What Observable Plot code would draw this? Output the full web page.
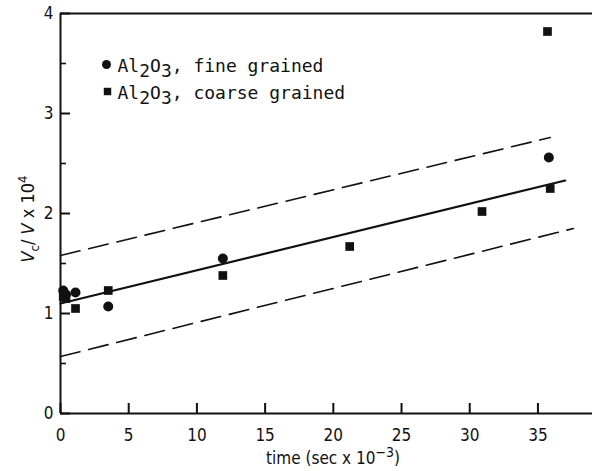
<!DOCTYPE html>
<html>
<head>
<meta charset="utf-8">
<script src="https://cdn.jsdelivr.net/npm/d3@7"></script>
<script src="https://cdn.jsdelivr.net/npm/@observablehq/plot@0.6"></script>
<style>
  html, body { margin: 0; padding: 0; background: #fff; }
  #chart svg { display: block; }
</style>
</head>
<body>
<div id="chart"></div>
<script>
// Fine grained Al2O3 (circles)
const fineX = [0.2, 0.4, 1.1, 3.5, 11.9, 35.8];
const fineY = [1.23, 1.19, 1.21, 1.07, 1.55, 2.56];
// Coarse grained Al2O3 (squares)
const coarseX = [0.2, 0.4, 1.1, 3.5, 11.9, 21.2, 30.9, 35.9, 35.7];
const coarseY = [1.17, 1.15, 1.05, 1.23, 1.38, 1.67, 2.02, 2.25, 3.82];
// Fit line and bands (end points)
const fitX = [0, 37.0];
const fitY = [1.10, 2.33];
const upperX = [0, 35.9];
const upperY = [1.58, 2.76];
const lowerX = [0, 37.6];
const lowerY = [0.57, 1.85];
// Ticks
const xTicks = [0, 5, 10, 15, 20, 25, 30, 35];
const yTicks = [0, 1, 2, 3, 4];
const yMinor = [0.5, 1.5, 2.5, 3.5];
const legendLabels = ["Al2O3, fine grained", "Al2O3, coarse grained"];

const fine = fineX.map((x, i) => ({x, y: fineY[i]}));
const coarse = coarseX.map((x, i) => ({x, y: coarseY[i]}));
const fit = fitX.map((x, i) => ({x, y: fitY[i]}));
const upper = upperX.map((x, i) => ({x, y: upperY[i]}));
const lower = lowerX.map((x, i) => ({x, y: lowerY[i]}));

const tickFont = "'Liberation Sans Narrow', 'DejaVu Sans Condensed', 'DejaVu Sans', sans-serif";
const monoFont = "'DejaVu Sans Mono', monospace";

// layout and scale geometry (used to convert inward tick lengths in pixels to data units)
const W = 594, H = 471, mL = 60, mT = 13, mB = 58, mR = 2;
const xDom = [0, 39], yDom = [0, 4];
const pxX = (W - mL - mR) / (xDom[1] - xDom[0]);
const pxY = (H - mT - mB) / (yDom[1] - yDom[0]);

const chart = Plot.plot({
  width: W,
  height: H,
  marginLeft: mL,
  marginTop: mT,
  marginBottom: mB,
  marginRight: mR,
  style: {fontFamily: tickFont, fontSize: "17px", color: "#111", background: "#fff"},
  x: {domain: xDom},
  y: {domain: yDom},
  marks: [
    // tick labels
    Plot.axisX(xTicks, {tickSize: 0, tickPadding: 15, label: null, fontSize: 17, tickFormat: "d"}),
    Plot.axisY(yTicks, {tickSize: 0, tickPadding: 7, label: null, fontSize: 17, tickFormat: "d"}),
    // inward ticks
    Plot.ruleX(xTicks, {x: d => d, y1: yDom[0], y2: yDom[0] + 10 / pxY, stroke: "#111", strokeWidth: 2}),
    Plot.ruleY(yTicks, {y: d => d, x1: xDom[0], x2: xDom[0] + 10 / pxX, stroke: "#111", strokeWidth: 2}),
    Plot.ruleY(yMinor, {y: d => d, x1: xDom[0], x2: xDom[0] + 6 / pxX, stroke: "#111", strokeWidth: 1.6}),
    // frame lines
    Plot.ruleX([0], {strokeWidth: 2}),
    Plot.ruleY([0], {strokeWidth: 2}),
    Plot.ruleY([4], {strokeWidth: 2}),
    // lines
    Plot.line(fit, {x: "x", y: "y", strokeWidth: 2.2, stroke: "#111"}),
    Plot.line(upper, {x: "x", y: "y", strokeWidth: 1.6, stroke: "#111", strokeDasharray: "20,9"}),
    Plot.line(lower, {x: "x", y: "y", strokeWidth: 1.6, stroke: "#111", strokeDasharray: "20,9"}),
    // points
    Plot.dot(fine, {x: "x", y: "y", r: 5, fill: "#111", symbol: "circle"}),
    Plot.dot(coarse, {x: "x", y: "y", r: 4.9, fill: "#111", symbol: "square"}),
    // legend
    Plot.dot([legendLabels[0]], {frameAnchor: "top-left", dx: 46, dy: 51, r: 4.5, fill: "#111", symbol: "circle"}),
    Plot.dot([legendLabels[1]], {frameAnchor: "top-left", dx: 47, dy: 78, r: 4.2, fill: "#111", symbol: "square"}),
    Plot.text([legendLabels[0]], {text: d => d, frameAnchor: "top-left", dx: 57, dy: 53, lineAnchor: "middle", textAnchor: "start", fontSize: 18, fontFamily: monoFont, fill: "#111"}),
    Plot.text([legendLabels[1]], {text: d => d, frameAnchor: "top-left", dx: 57, dy: 80, lineAnchor: "middle", textAnchor: "start", fontSize: 18, fontFamily: monoFont, fill: "#111"})
  ]
});

document.getElementById("chart").appendChild(chart);

const svg = d3.select(chart);

// subscripts in legend labels
svg.selectAll("text").filter(function() { return legendLabels.includes(this.textContent); })
  .each(function() {
    const t = d3.select(this);
    const s = this.textContent;
    t.text(null);
    t.append("tspan").text("Al");
    t.append("tspan").attr("dy", 5).text("2");
    t.append("tspan").attr("dy", -5).text("O");
    t.append("tspan").attr("dy", 5).text("3");
    t.append("tspan").attr("dy", -5).text(s.slice(5));
  });

// Axis titles with sub/superscripts
const xl = svg.append("text")
  .attr("x", 333).attr("y", 464)
  .attr("text-anchor", "middle")
  .attr("font-family", tickFont)
  .attr("font-size", 17)
  .attr("fill", "#111");
xl.append("tspan").text("time (sec x 10");
xl.append("tspan").attr("dy", -7).attr("font-size", 14).text("\u22123");
xl.append("tspan").attr("dy", 7).text(")");

const yl = svg.append("text")
  .attr("transform", "translate(34,219) rotate(-90)")
  .attr("text-anchor", "middle")
  .attr("font-family", tickFont)
  .attr("font-size", 18)
  .attr("fill", "#111");
yl.append("tspan").attr("font-style", "italic").text("V");
yl.append("tspan").attr("dy", 5).attr("font-size", 13).text("c");
yl.append("tspan").attr("dy", -5).text("/ ");
yl.append("tspan").attr("font-style", "italic").text("V");
yl.append("tspan").text(" x 10");
yl.append("tspan").attr("dy", -7).attr("font-size", 13).text("4");
</script>
</body>
</html>
